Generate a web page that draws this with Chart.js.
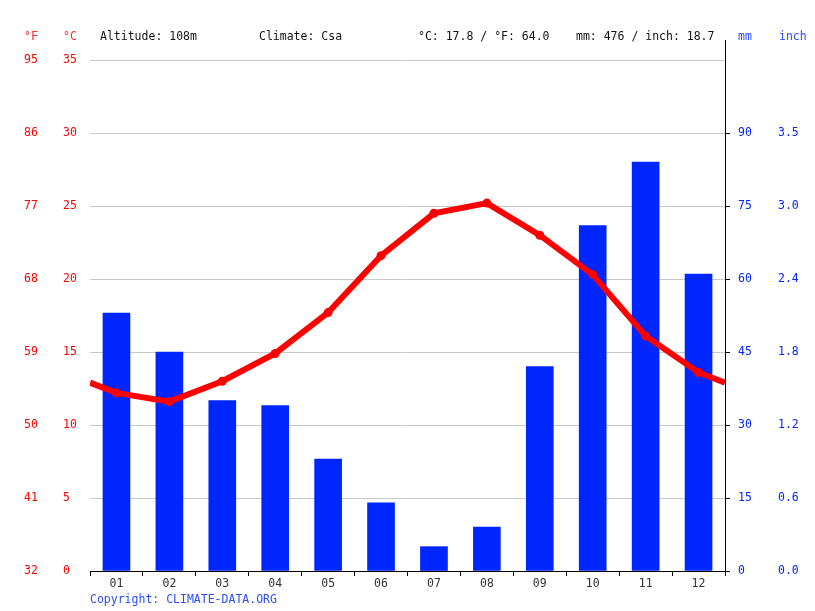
<!DOCTYPE html>
<html>
<head>
<meta charset="utf-8">
<script src="https://cdn.jsdelivr.net/npm/chart.js@4/dist/chart.umd.min.js"></script>
<style>
    html, body { margin: 0; padding: 0; background: #fff; }
    #wrap { position: relative; width: 815px; height: 611px; }
    #wrap canvas { position: absolute; left: 0; top: 0; }
    .lbl {
        position: absolute;
        font-family: "DejaVu Sans Mono", monospace;
        font-size: 11.5px;
        line-height: 14px;
        white-space: pre;
    }
    .red { color: #ff2a2a; }
    .blue { color: #2a4dff; }
    .dark { color: #111; }
</style>
</head>
<body>
<div id="wrap">
    <canvas id="climate-chart" width="815" height="611"></canvas>
    <div class="lbl red" style="left:24px; top:29px;">°F</div>
    <div class="lbl red" style="left:63px; top:29px;">°C</div>
    <div class="lbl dark" style="left:100px; top:29px;">Altitude: 108m</div>
    <div class="lbl dark" style="left:259px; top:29px;">Climate: Csa</div>
    <div class="lbl dark" style="left:418px; top:29px;">°C: 17.8 / °F: 64.0</div>
    <div class="lbl dark" style="left:576px; top:29px;">mm: 476 / inch: 18.7</div>
    <div class="lbl blue" style="left:738px; top:29px;">mm</div>
    <div class="lbl blue" style="left:779px; top:29px;">inch</div>
    <div class="lbl blue" style="left:90px; top:592px;">Copyright: CLIMATE-DATA.ORG</div>
</div>
<script>
// Climate chart: monthly precipitation (bars) and mean temperature (line).
const months = ['01', '02', '03', '04', '05', '06', '07', '08', '09', '10', '11', '12'];
const precipMm = [53, 45, 35, 34, 23, 14, 5, 9, 42, 71, 84, 61];
const tempC = [12.2, 11.6, 13.0, 14.9, 17.7, 21.6, 24.5, 25.2, 23.0, 20.3, 16.1, 13.6];
// line runs off both edges of the plot at about this value
const tempEdgeC = [12.9, 12.9];

const celsiusTicks = [0, 5, 10, 15, 20, 25, 30, 35];
const fahrenheitTicks = [32, 41, 50, 59, 68, 77, 86, 95];
const mmTicks = [0, 15, 30, 45, 60, 75, 90];
const inchTicks = ['0.0', '0.6', '1.2', '1.8', '2.4', '3.0', '3.5'];

const MONO = '"DejaVu Sans Mono", monospace';
const RED = '#ff0000';
const BLUE = '#0026ff';

function ready(fn) {
    if (document.readyState !== 'loading') {
        fn();
    } else {
        document.addEventListener('DOMContentLoaded', fn);
    }
}

function fixWidth(w) {
    return scale => { scale.width = w; };
}

function lineData() {
    const pts = [{ x: 0.5, y: tempEdgeC[0] }];
    tempC.forEach((t, i) => pts.push({ x: i + 1, y: t }));
    pts.push({ x: 12.5, y: tempEdgeC[1] });
    return pts;
}

// right axis line sticks up a bit above the plot
const axisTopLine = {
    id: 'axisTopLine',
    afterDraw(chart) {
        const { ctx, chartArea } = chart;
        ctx.save();
        ctx.strokeStyle = '#000';
        ctx.lineWidth = 1;
        ctx.beginPath();
        ctx.moveTo(chartArea.right + 0.5, chartArea.top - 20);
        ctx.lineTo(chartArea.right + 0.5, chartArea.top);
        ctx.stroke();
        ctx.restore();
    }
};

function drawChart() {
    const ctx = document.getElementById('climate-chart').getContext('2d');
    const pointRadii = [0, ...tempC.map(() => 4.5), 0];

    new Chart(ctx, {
        data: {
            labels: months,
            datasets: [
                {
                    type: 'line',
                    data: lineData(),
                    xAxisID: 'xl',
                    yAxisID: 'y',
                    borderColor: RED,
                    backgroundColor: RED,
                    borderWidth: 6,
                    pointRadius: pointRadii,
                    pointBorderWidth: 0,
                    tension: 0,
                    order: 0
                },
                {
                    type: 'bar',
                    data: precipMm,
                    xAxisID: 'x',
                    yAxisID: 'mm',
                    backgroundColor: BLUE,
                    barThickness: 27,
                    grouped: false,
                    order: 1
                }
            ]
        },
        options: {
            responsive: false,
            animation: false,
            layout: { padding: { top: 60, bottom: 15, left: 24, right: 10 } },
            plugins: { legend: { display: false }, tooltip: { enabled: false } },
            scales: {
                x: {
                    type: 'category',
                    offset: true,
                    border: { color: '#000', width: 1 },
                    grid: { offset: true, drawOnChartArea: false, color: '#000', tickLength: 5 },
                    ticks: { color: '#333', font: { family: MONO, size: 11.5 }, padding: 1 },
                    afterFit: scale => { scale.height = 25; }
                },
                xl: {
                    type: 'linear',
                    display: false,
                    min: 0.5,
                    max: 12.5
                },
                y: {
                    position: 'left',
                    weight: 1,
                    min: 0,
                    max: 35,
                    border: { display: false },
                    grid: { color: '#c8c8c8', drawTicks: false },
                    afterBuildTicks: scale => { scale.ticks = celsiusTicks.map(v => ({ value: v })); },
                    ticks: { color: RED, crossAlign: 'far', padding: 0, font: { family: MONO, size: 11.5 } },
                    afterFit: fixWidth(27)
                },
                yF: {
                    position: 'left',
                    weight: 2,
                    min: 32,
                    max: 95,
                    border: { display: false },
                    grid: { display: false },
                    afterBuildTicks: scale => { scale.ticks = fahrenheitTicks.map(v => ({ value: v })); },
                    ticks: { color: RED, crossAlign: 'far', padding: 0, font: { family: MONO, size: 11.5 } },
                    afterFit: fixWidth(39)
                },
                mm: {
                    position: 'right',
                    weight: 1,
                    min: 0,
                    max: 105,
                    border: { color: '#000', width: 1 },
                    grid: { drawOnChartArea: false, color: '#000', tickLength: 5 },
                    afterBuildTicks: scale => { scale.ticks = mmTicks.map(v => ({ value: v })); },
                    ticks: { color: BLUE, padding: 8, font: { family: MONO, size: 11.5 } },
                    afterFit: fixWidth(40)
                },
                inch: {
                    position: 'right',
                    weight: 2,
                    min: 0,
                    max: 105,
                    border: { display: false },
                    grid: { display: false, drawTicks: false },
                    afterBuildTicks: scale => { scale.ticks = mmTicks.map(v => ({ value: v })); },
                    ticks: {
                        color: BLUE,
                        padding: 13,
                        font: { family: MONO, size: 11.5 },
                        callback: (value, index) => inchTicks[index]
                    },
                    afterFit: fixWidth(40)
                }
            }
        },
        plugins: [axisTopLine]
    });
}

ready(drawChart);
</script>
</body>
</html>
